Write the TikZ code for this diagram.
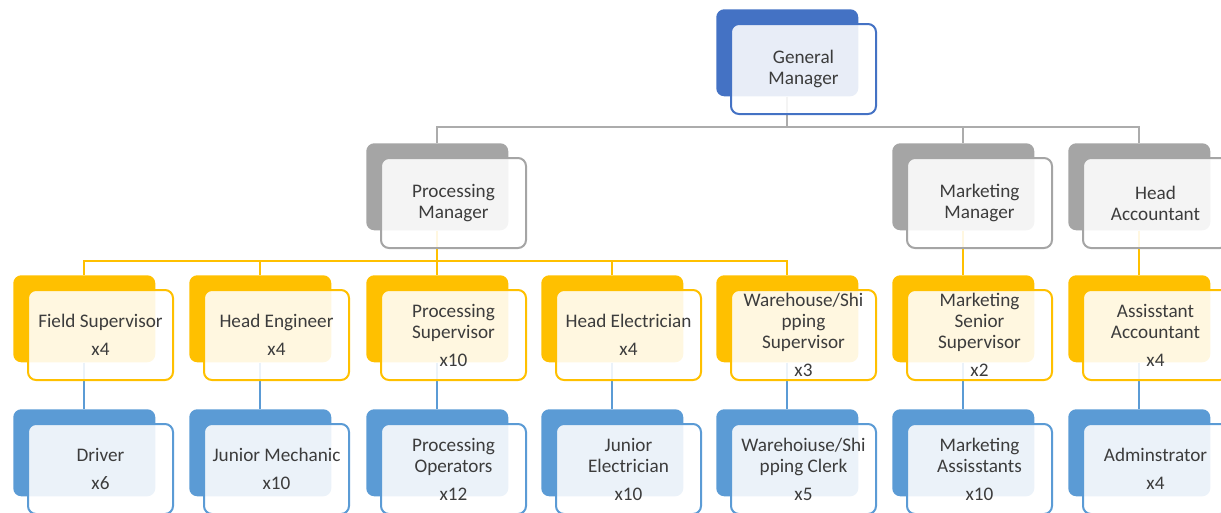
\documentclass[tikz,border=0pt]{standalone}
\usepackage{fontspec}
\setmainfont{Carlito}
\usetikzlibrary{backgrounds}

\definecolor{gmblue}{RGB}{68,114,196}
\definecolor{mgrgray}{RGB}{165,165,165}
\definecolor{linegray}{RGB}{172,172,172}
\definecolor{supyellow}{RGB}{255,192,0}
\definecolor{staffblue}{RGB}{91,155,213}
\definecolor{txt}{RGB}{60,60,60}

\tikzset{
  backbox/.style={anchor=north west, inner sep=0pt, rounded corners=6pt,
    minimum width=106.5pt, minimum height=65.25pt},
  frontbox/.style={anchor=north west, inner sep=0pt, rounded corners=6pt,
    minimum width=108.75pt, minimum height=67.5pt, line width=1.5pt,
    fill=white, fill opacity=0.88, text opacity=1, draw opacity=1,
    text=txt, align=center, font=\fontsize{14.4}{15.75}\selectfont},
  link/.style={line width=1.5pt},
}

% one chart entry: solid back card with a lighter card laid over it
% #1 name, #2 left, #3 top, #4 colour, #5 label
\newcommand\orgunit[5]{%
  \node[backbox, fill=#4] (#1b) at (#2,#3) {};
  \node[frontbox, draw=#4] (#1) at (#2+14,#3+14) {#5};
}

\begin{document}
\begin{tikzpicture}[x=0.75pt, y=-0.75pt]
\useasboundingbox (0,0) rectangle (1221,512);
\clip (0,0) rectangle (1221,512);

% top
\orgunit{gm}{716}{9}{gmblue}{General\\Manager}

% managers
\orgunit{pm}{366}{143}{mgrgray}{Processing\\Manager}
\orgunit{mm}{892}{143}{mgrgray}{Marketing\\Manager}
\orgunit{ha}{1068}{143}{mgrgray}{Head\\Accountant}

% supervisors
\orgunit{fs}{13}{275}{supyellow}{Field Supervisor\\[5.25pt]x4}
\orgunit{he}{189}{275}{supyellow}{Head Engineer\\[5.25pt]x4}
\orgunit{ps}{366}{275}{supyellow}{Processing\\Supervisor\\[5.25pt]x10}
\orgunit{hel}{541}{275}{supyellow}{Head Electrician\\[5.25pt]x4}
\orgunit{ws}{716}{275}{supyellow}{Warehouse/Shi\\pping\\Supervisor\\[5.25pt]x3}
\orgunit{ms}{892}{275}{supyellow}{Marketing\\Senior\\Supervisor\\[5.25pt]x2}
\orgunit{aa}{1068}{275}{supyellow}{Assisstant\\Accountant\\[5.25pt]x4}

% staff
\orgunit{dr}{13}{409}{staffblue}{Driver\\[5.25pt]x6}
\orgunit{jm}{189}{409}{staffblue}{Junior Mechanic\\[5.25pt]x10}
\orgunit{po}{366}{409}{staffblue}{Processing\\Operators\\[5.25pt]x12}
\orgunit{je}{541}{409}{staffblue}{Junior\\Electrician\\[5.25pt]x10}
\orgunit{wc}{716}{409}{staffblue}{Warehoiuse/Shi\\pping Clerk\\[5.25pt]x5}
\orgunit{ma}{892}{409}{staffblue}{Marketing\\Assisstants\\[5.25pt]x10}
\orgunit{ad}{1068}{409}{staffblue}{Adminstrator\\[5.25pt]x4}

\coordinate (gbus) at (0,127);
\coordinate (ybus) at (0,261);

\begin{scope}[on background layer]
  % general manager to managers
  \draw[link, linegray, line width=1.3pt] (gmb.south) -- (gmb.south |- gbus);
  \draw[link, linegray, line width=1.3pt] (pmb.north) -- (pmb.north |- gbus)
        -- (hab.north |- gbus) -- (hab.north);
  \draw[link, linegray, line width=1.3pt] (mmb.north) -- (mmb.north |- gbus);
  % processing manager to supervisors
  \draw[link, supyellow] (pmb.south) -- (pmb.south |- ybus);
  \draw[link, supyellow] (fsb.north) -- (fsb.north |- ybus)
        -- (wsb.north |- ybus) -- (wsb.north);
  \foreach \n in {heb, psb, helb}
    \draw[link, supyellow] (\n.north) -- (\n.north |- ybus);
  \draw[link, supyellow] (mmb.south) -- (msb.north);
  \draw[link, supyellow] (hab.south) -- (aab.north);
  % supervisors to staff
  \foreach \s/\t in {fsb/drb, heb/jmb, psb/pob, helb/jeb, wsb/wcb, msb/mab, aab/adb}
    \draw[link, staffblue] (\s.south) -- (\t.north);
\end{scope}
\end{tikzpicture}
\end{document}
